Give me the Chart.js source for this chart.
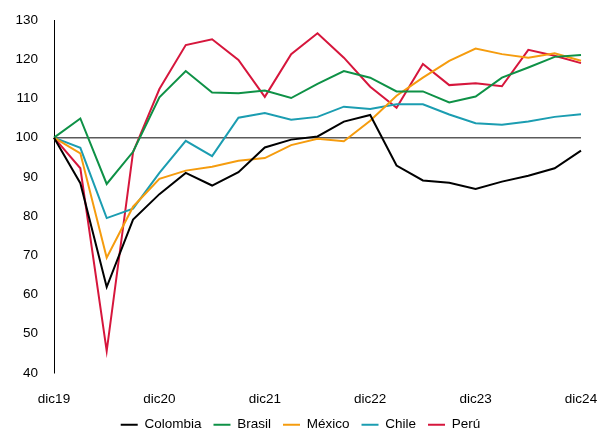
<!DOCTYPE html>
<html><head><meta charset="utf-8">
<script src="https://cdn.jsdelivr.net/npm/chart.js@4.4.1/dist/chart.umd.min.js"></script>
<style>html,body{margin:0;padding:0;background:#fff}#wrap{width:601px;height:434px}</style>
</head><body><div id="wrap"><canvas id="c" width="601" height="434"></canvas></div>
<script>
const labels = ["dic19","mar20","jun20","sep20","dic20","mar21","jun21","sep21","dic21","mar22","jun22","sep22","dic22","mar23","jun23","sep23","dic23","mar24","jun24","sep24","dic24"];
const colombia = [100,88.4,61.9,79.1,85.6,91.0,87.8,91.2,97.5,99.5,100.3,104.1,105.8,92.9,89.1,88.5,86.9,88.8,90.3,92.2,96.7];
const brasil   = [100,104.9,88.2,96.4,110.3,117.0,111.5,111.3,112.0,110.1,113.7,117.0,115.3,111.8,111.8,109.0,110.5,115.3,117.9,120.6,121.1];
const mexico   = [100,96.0,69.4,82.4,89.5,91.6,92.6,94.1,94.8,98.1,99.7,99.1,104.3,110.7,115.3,119.6,122.7,121.3,120.4,121.5,119.6];
const chile    = [100,97.4,79.5,81.9,91.0,99.2,95.3,105.1,106.3,104.6,105.3,107.9,107.3,108.5,108.5,105.9,103.7,103.3,104.1,105.3,106.0];
const peru     = [100,92.2,45.6,96.3,112.4,123.6,125.1,119.8,110.4,121.3,126.6,120.4,113.0,107.6,118.8,113.4,113.9,113.1,122.4,120.9,119.0];
const yTicks = [40,50,60,70,80,90,100,110,120,130];

const FONT = "'Liberation Sans', Arial, sans-serif";
function ds(label, data, color){
  return {label, data, borderColor: color, backgroundColor: color, borderWidth: 2, pointRadius: 0, tension: 0, fill: false};
}
const legendFitPlugin = {
  id: 'legendFit',
  afterInit(chart){
    const lg = chart.legend;
    if (lg && !lg._wrapped){
      const orig = lg.fit.bind(lg);
      lg.fit = function(){ orig(); this.height = 28; };
      lg._wrapped = true;
    }
  }
};
new Chart(document.getElementById('c'), {
  type: 'line',
  data: { labels, datasets: [
    ds('Colombia', colombia, '#000000'),
    ds('Brasil', brasil, '#0e9146'),
    ds('México', mexico, '#f59c0e'),
    ds('Chile', chile, '#1b9db1'),
    ds('Perú', peru, '#d6163c')
  ]},
  plugins: [legendFitPlugin],
  options: {
    responsive: false, animation: false,
    layout: { padding: { left: 0, right: 0, top: 20, bottom: 0 } },
    plugins: {
      tooltip: {enabled: false},
      legend: {
        position: 'bottom',
        labels: { usePointStyle: true, pointStyle: 'line', pointStyleWidth: 17, padding: 12, color: '#000', font: {family: FONT, size: 13.5} }
      }
    },
    scales: {
      x: {
        offset: false,
        grid: { display: false },
        border: { display: false },
        ticks: { autoSkip: false, maxRotation: 0, padding: 10, color: '#000', font: {family: FONT, size: 13.5},
          callback: function(v, i){ return i % 4 === 0 ? labels[i] : ''; } },
        afterFit: s => { s.height = 33; s.paddingRight = 20; s.paddingLeft = 0; }
      },
      y: {
        min: 40, max: 130,
        afterBuildTicks: s => { s.ticks = yTicks.map(v => ({value: v})); },
        grid: { drawTicks: false, lineWidth: 1.5, color: c => c.tick && c.tick.value === 100 ? '#5a5a5a' : 'rgba(0,0,0,0)' },
        border: { display: true, color: '#000', width: 1 },
        ticks: { padding: 16, color: '#000', font: {family: FONT, size: 13.5} },
        afterFit: s => { s.width = 54; s.paddingTop = 0; s.paddingBottom = 0; }
      }
    }
  }
});
</script></body></html>
